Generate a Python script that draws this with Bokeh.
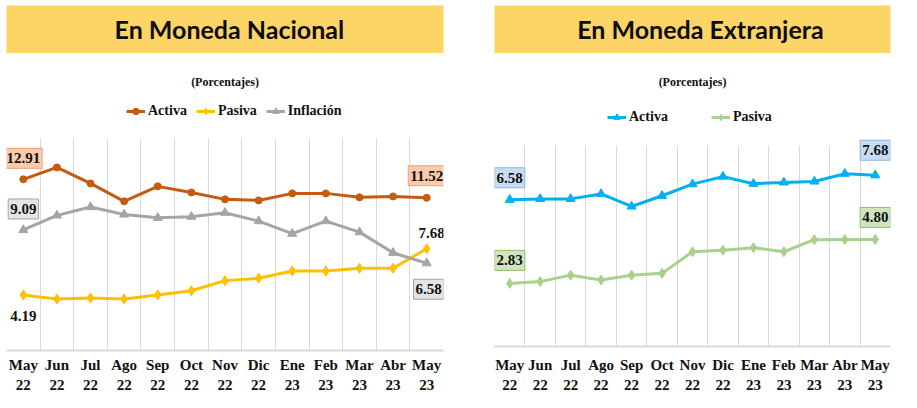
from bokeh.plotting import figure
from bokeh.layouts import row, column
from bokeh.models import Label, Legend, LegendItem, FixedTicker, Range1d
from bokeh.embed import file_html
from bokeh.resources import INLINE

months = ["May\n22", "Jun\n22", "Jul\n22", "Ago\n22", "Sep\n22", "Oct\n22", "Nov\n22",
          "Dic\n22", "Ene\n23", "Feb\n23", "Mar\n23", "Abr\n23", "May\n23"]
mn_activa = [12.91, 13.81, 12.60, 11.25, 12.38, 11.92, 11.40, 11.32, 11.85, 11.85, 11.55, 11.62, 11.52]
mn_pasiva = [4.19, 3.89, 3.96, 3.89, 4.19, 4.51, 5.27, 5.45, 6.00, 6.00, 6.20, 6.20, 7.68]
mn_inflacion = [9.09, 10.19, 10.82, 10.26, 10.01, 10.09, 10.39, 9.76, 8.81, 9.76, 8.93, 7.37, 6.58]
me_activa = [6.58, 6.62, 6.62, 6.84, 6.28, 6.76, 7.28, 7.62, 7.30, 7.36, 7.40, 7.75, 7.68]
me_pasiva = [2.83, 2.91, 3.20, 2.98, 3.20, 3.28, 4.25, 4.32, 4.43, 4.25, 4.79, 4.80, 4.80]

titles = ["En Moneda Nacional", "En Moneda Extranjera"]
subtitle = "(Porcentajes)"

SERIF = "Liberation Serif"
xs = list(range(len(months)))
first, last = 0, len(months) - 1


def banner(text, width, left, right, cx):
    b = figure(width=width, height=53, x_range=Range1d(0, 1), y_range=Range1d(0, 1),
               x_axis_location=None, y_axis_location=None, toolbar_location=None,
               output_backend="svg", min_border_left=left, min_border_right=right,
               min_border_top=5, min_border_bottom=0)
    b.background_fill_color = "#FDD466"
    b.border_fill_color = "white"
    b.outline_line_color = None
    b.grid.visible = False
    b.add_layout(Label(x=cx, y=0.52, text=text, text_align="center", text_baseline="middle",
                       text_font="Lato", text_font_style="bold", text_font_size="25px",
                       text_color="#0D0D0D"))
    return b


def chart(width, left, right, bottom, ymax, ytop, standoff):
    # the frame also holds the header (subtitle + legend); grid lines stop at ymax
    p = figure(width=width, height=347, x_range=Range1d(-0.5, len(months) - 0.5),
               y_range=Range1d(0, ytop), toolbar_location=None, output_backend="svg",
               min_border_left=left, min_border_right=right, min_border_top=0,
               min_border_bottom=bottom)
    p.outline_line_color = None
    p.yaxis.visible = False
    p.ygrid.visible = False
    p.xgrid.ticker = FixedTicker(ticks=[i - 0.5 for i in range(len(months) + 1)])
    p.xgrid.cross_bounds = (0, ymax)
    p.xgrid.grid_line_color = "#D9D9D9"
    p.xgrid.grid_line_width = 1
    p.xaxis.ticker = FixedTicker(ticks=xs)
    p.xaxis.major_label_overrides = {i: m for i, m in enumerate(months)}
    p.xaxis.axis_line_color = "#D9D9D9"
    p.xaxis.axis_line_width = 2
    p.xaxis.major_tick_line_color = None
    p.xaxis.minor_tick_line_color = None
    p.xaxis.major_tick_out = 0
    p.xaxis.major_tick_in = 0
    p.xaxis.minor_tick_out = 0
    p.xaxis.major_label_standoff = standoff
    p.xaxis.major_label_text_font = SERIF
    p.xaxis.major_label_text_font_style = "bold"
    p.xaxis.major_label_text_font_size = "15px"
    p.xaxis.major_label_text_line_height = 1.3
    p.xaxis.major_label_text_color = "#111111"
    return p


def series(p, ys, color, marker, size):
    l = p.line(xs, ys, line_width=3, line_color=color)
    s = p.scatter(xs, ys, marker=marker, size=size, fill_color=color, line_color=color)
    return [l, s]


def box_label(p, x, y, text, dy, fill, border, dx=0):
    p.add_layout(Label(x=x, y=y, text=text, x_offset=dx, y_offset=dy, text_align="center",
                       text_baseline="middle", text_font=SERIF, text_font_style="bold",
                       text_font_size="15px", text_color="#111111",
                       background_fill_color=fill, border_line_color=border,
                       padding=dict(left=2, right=2, top=5, bottom=5)))


def plain_label(p, x, y, text, dy, dx=0):
    p.add_layout(Label(x=x, y=y, text=text, x_offset=dx, y_offset=dy, text_align="center",
                       text_baseline="middle", text_font=SERIF, text_font_style="bold",
                       text_font_size="15px", text_color="#111111"))


def header(p, items, loc, spacing, sub_y):
    lg = Legend(items=[LegendItem(label=n, renderers=r) for n, r in items],
                orientation="horizontal", location=loc, border_line_color=None,
                background_fill_alpha=0, padding=0, margin=0, spacing=spacing,
                glyph_width=19, glyph_height=16, label_standoff=3,
                label_text_font=SERIF, label_text_font_style="bold",
                label_text_font_size="14px", label_text_color="#111111")
    p.add_layout(lg)
    p.add_layout(Label(x=(len(months) - 1) / 2, y=sub_y, y_units="screen", text=subtitle,
                       text_align="center", text_baseline="middle", text_font=SERIF,
                       text_font_style="bold", text_font_size="12px", text_color="#111111"))


# ---- left: moneda nacional
bl = banner(titles[0], 458, 0, 8, 0.51)
pl = chart(458, 6, 15, 50, 16, 22.4, 6)
ra = series(pl, mn_activa, "#C55A11", "circle", 7)
rp = series(pl, mn_pasiva, "#FFC000", "diamond", 10)
ri = series(pl, mn_inflacion, "#A5A5A5", "triangle", 9)
header(pl, [("Activa", ra), ("Pasiva", rp), ("Inflación", ri)], (120, 231), 9, 269)
box_label(pl, first, mn_activa[first], f"{mn_activa[first]:.2f}", 21, "#F8CBAD", "#F4A06A")
box_label(pl, last, mn_activa[last], f"{mn_activa[last]:.2f}", 22, "#F8CBAD", "#F4A06A")
box_label(pl, first, mn_inflacion[first], f"{mn_inflacion[first]:.2f}", 21, "#E4E4E4", "#A5A5A5")
box_label(pl, last, mn_inflacion[last], f"{mn_inflacion[last]:.2f}", -26, "#E4E4E4", "#A5A5A5", 2)
plain_label(pl, first, mn_pasiva[first], f"{mn_pasiva[first]:.2f}", -21, 0)
plain_label(pl, last, mn_pasiva[last], f"{mn_pasiva[last]:.2f}", 16, 5)

# ---- right: moneda extranjera
br = banner(titles[1], 443, 9, 0, 0.52)
pr = chart(443, 36, 11, 54, 9, 13.14, 10)
rea = series(pr, me_activa, "#00B0F0", "triangle", 9)
rep = series(pr, me_pasiva, "#A9D18E", "diamond", 10)
header(pr, [("Activa", rea), ("Pasiva", rep)], (113, 221), 43, 265)
box_label(pr, first, me_activa[first], f"{me_activa[first]:.2f}", 22, "#C9DDF2", "#8DB4E2")
box_label(pr, last, me_activa[last], f"{me_activa[last]:.2f}", 25, "#C9DDF2", "#8DB4E2")
box_label(pr, first, me_pasiva[first], f"{me_pasiva[first]:.2f}", 23, "#CFE5BE", "#8FBF6E")
box_label(pr, last, me_pasiva[last], f"{me_pasiva[last]:.2f}", 22, "#CFE5BE", "#8FBF6E")

layout = row(column(bl, pl), column(br, pr))
open("out.html", "w").write(file_html(layout, INLINE))
